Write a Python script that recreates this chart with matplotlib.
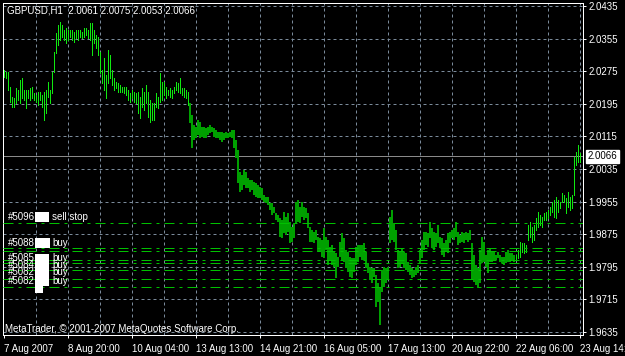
import numpy as np
import matplotlib
matplotlib.use("Agg")
import matplotlib.pyplot as plt
from matplotlib.patches import Rectangle

# GBPUSD H1 bars, 7 Aug 2007 12:00 .. 23 Aug 2007 14:00
highs = [
    2.0277, 2.0273, 2.0273, 2.0236, 2.0212, 2.0209, 2.0234, 2.0229, 2.0253, 2.0258, 2.0229, 2.0229, 2.0229, 2.0234, 2.0236, 2.0222,
    2.0217, 2.0224, 2.0224, 2.0217, 2.0224, 2.0229, 2.0249, 2.0229, 2.0273, 2.0322, 2.0369, 2.0388, 2.0396, 2.0388, 2.0376, 2.0381,
    2.0376, 2.0376, 2.0376, 2.0371, 2.0376, 2.0376, 2.0376, 2.0371, 2.0381, 2.0381, 2.0376, 2.0393, 2.0393, 2.0376, 2.0364, 2.0359,
    2.0322, 2.0277, 2.0307, 2.0265, 2.0327, 2.0315, 2.0277, 2.0258, 2.0249, 2.0246, 2.0241, 2.0236, 2.0236, 2.0236, 2.0229, 2.0222,
    2.0229, 2.0224, 2.0222, 2.0224, 2.0212, 2.0234, 2.0224, 2.0241, 2.0224, 2.0204, 2.0197, 2.0197, 2.0222, 2.0212, 2.0270, 2.0249,
    2.0249, 2.0236, 2.0229, 2.0234, 2.0229, 2.0236, 2.0249, 2.0246, 2.0258, 2.0234, 2.0234, 2.0229, 2.0224, 2.0197, 2.0168, 2.0143,
    2.0138, 2.0155, 2.0150, 2.0138, 2.0138, 2.0136, 2.0138, 2.0143, 2.0138, 2.0136, 2.0131, 2.0126, 2.0126, 2.0126, 2.0123, 2.0126,
    2.0123, 2.0126, 2.0131, 2.0131, 2.0106, 2.0082, 2.0028, 2.0020, 2.0032, 2.0028, 2.0013, 2.0008, 2.0008, 2.0003, 2.0001, 1.9996,
    1.9991, 1.9988, 1.9972, 1.9967, 1.9967, 1.9952, 1.9952, 1.9942, 1.9927, 1.9922, 1.9915, 1.9910, 1.9930, 1.9917, 1.9927, 1.9905,
    1.9893, 1.9903, 1.9954, 1.9959, 1.9942, 1.9954, 1.9942, 1.9939, 1.9927, 1.9893, 1.9885, 1.9880, 1.9885, 1.9868, 1.9866, 1.9861,
    1.9890, 1.9868, 1.9861, 1.9844, 1.9849, 1.9831, 1.9829, 1.9819, 1.9856, 1.9878, 1.9866, 1.9836, 1.9831, 1.9819, 1.9817, 1.9817,
    1.9844, 1.9849, 1.9849, 1.9849, 1.9853, 1.9831, 1.9804, 1.9795, 1.9792, 1.9792, 1.9775, 1.9755, 1.9746, 1.9787, 1.9795, 1.9792,
    1.9795, 1.9917, 1.9935, 1.9903, 1.9885, 1.9836, 1.9831, 1.9841, 1.9831, 1.9829, 1.9807, 1.9800, 1.9792, 1.9787, 1.9795, 1.9800,
    1.9836, 1.9861, 1.9880, 1.9880, 1.9878, 1.9905, 1.9890, 1.9880, 1.9878, 1.9898, 1.9868, 1.9866, 1.9853, 1.9861, 1.9878, 1.9880,
    1.9885, 1.9890, 1.9905, 1.9880, 1.9873, 1.9880, 1.9878, 1.9880, 1.9878, 1.9885, 1.9853, 1.9824, 1.9800, 1.9792, 1.9836, 1.9868,
    1.9856, 1.9824, 1.9836, 1.9841, 1.9831, 1.9831, 1.9824, 1.9831, 1.9824, 1.9819, 1.9819, 1.9831, 1.9836, 1.9829, 1.9829, 1.9824,
    1.9824, 1.9836, 1.9856, 1.9853, 1.9853, 1.9849, 1.9898, 1.9905, 1.9893, 1.9898, 1.9915, 1.9930, 1.9922, 1.9917, 1.9927, 1.9930,
    1.9935, 1.9942, 1.9954, 1.9959, 1.9967, 1.9959, 1.9954, 1.9976, 1.9972, 1.9964, 1.9979, 1.9967, 1.9972, 2.0065, 2.0077, 2.0094,
    2.0075,
]
lows = [
    2.0261, 2.0258, 2.0229, 2.0200, 2.0187, 2.0187, 2.0197, 2.0204, 2.0197, 2.0209, 2.0204, 2.0185, 2.0209, 2.0204, 2.0209, 2.0204,
    2.0200, 2.0192, 2.0204, 2.0187, 2.0155, 2.0172, 2.0212, 2.0197, 2.0222, 2.0273, 2.0320, 2.0339, 2.0352, 2.0359, 2.0352, 2.0344,
    2.0352, 2.0359, 2.0352, 2.0347, 2.0356, 2.0352, 2.0359, 2.0356, 2.0359, 2.0364, 2.0356, 2.0352, 2.0315, 2.0344, 2.0332, 2.0315,
    2.0270, 2.0246, 2.0229, 2.0209, 2.0246, 2.0258, 2.0241, 2.0229, 2.0234, 2.0224, 2.0224, 2.0224, 2.0222, 2.0217, 2.0204, 2.0200,
    2.0209, 2.0200, 2.0197, 2.0172, 2.0160, 2.0187, 2.0180, 2.0197, 2.0163, 2.0150, 2.0155, 2.0155, 2.0187, 2.0185, 2.0200, 2.0204,
    2.0217, 2.0209, 2.0217, 2.0212, 2.0209, 2.0222, 2.0229, 2.0224, 2.0222, 2.0217, 2.0212, 2.0209, 2.0192, 2.0148, 2.0087, 2.0106,
    2.0111, 2.0119, 2.0111, 2.0114, 2.0111, 2.0111, 2.0119, 2.0123, 2.0126, 2.0114, 2.0111, 2.0111, 2.0106, 2.0101, 2.0106, 2.0111,
    2.0111, 2.0114, 2.0111, 2.0087, 2.0062, 2.0001, 1.9979, 1.9984, 1.9996, 1.9988, 1.9988, 1.9979, 1.9984, 1.9972, 1.9967, 1.9964,
    1.9964, 1.9959, 1.9954, 1.9952, 1.9947, 1.9935, 1.9922, 1.9927, 1.9910, 1.9905, 1.9868, 1.9866, 1.9878, 1.9873, 1.9880, 1.9853,
    1.9856, 1.9866, 1.9903, 1.9905, 1.9903, 1.9917, 1.9910, 1.9915, 1.9890, 1.9856, 1.9856, 1.9853, 1.9861, 1.9831, 1.9831, 1.9819,
    1.9817, 1.9836, 1.9800, 1.9812, 1.9800, 1.9795, 1.9768, 1.9795, 1.9819, 1.9812, 1.9807, 1.9792, 1.9782, 1.9770, 1.9768, 1.9782,
    1.9800, 1.9807, 1.9819, 1.9812, 1.9812, 1.9792, 1.9780, 1.9763, 1.9755, 1.9770, 1.9696, 1.9709, 1.9652, 1.9733, 1.9746, 1.9755,
    1.9763, 1.9853, 1.9861, 1.9856, 1.9836, 1.9792, 1.9795, 1.9804, 1.9792, 1.9787, 1.9782, 1.9775, 1.9768, 1.9770, 1.9775, 1.9780,
    1.9804, 1.9817, 1.9836, 1.9849, 1.9844, 1.9866, 1.9841, 1.9836, 1.9844, 1.9853, 1.9841, 1.9824, 1.9819, 1.9831, 1.9829, 1.9853,
    1.9866, 1.9861, 1.9868, 1.9849, 1.9853, 1.9856, 1.9853, 1.9861, 1.9856, 1.9861, 1.9763, 1.9758, 1.9750, 1.9743, 1.9755, 1.9804,
    1.9807, 1.9795, 1.9780, 1.9807, 1.9807, 1.9812, 1.9812, 1.9817, 1.9807, 1.9804, 1.9800, 1.9804, 1.9807, 1.9807, 1.9812, 1.9807,
    1.9812, 1.9817, 1.9819, 1.9831, 1.9829, 1.9831, 1.9861, 1.9868, 1.9856, 1.9861, 1.9885, 1.9893, 1.9898, 1.9893, 1.9910, 1.9910,
    1.9915, 1.9922, 1.9930, 1.9917, 1.9915, 1.9930, 1.9939, 1.9954, 1.9954, 1.9927, 1.9942, 1.9935, 1.9939, 1.9972, 2.0045, 2.0052,
    2.0053,
]

x_labels = ["7 Aug 2007", "8 Aug 20:00", "10 Aug 04:00", "13 Aug 13:00", "14 Aug 21:00",
            "16 Aug 05:00", "17 Aug 13:00", "20 Aug 22:00", "22 Aug 06:00", "23 Aug 14:00"]
y_ticks = [2.0435, 2.0355, 2.0275, 2.0195, 2.0115, 2.0035, 1.9955, 1.9875, 1.9795, 1.9715, 1.9635]
bid = 2.0066
title = "GBPUSD,H1  2.0061 2.0075 2.0053 2.0066"

order_lines = [1.9903, 1.9840, 1.9833, 1.9812, 1.9805, 1.9786, 1.9765, 1.9745]
order_ids = ["#5096", "#5088", "#5085", "#5084", "#5082", "#5082"]
order_types = ["sell stop", "buy", "buy", "buy", "buy", "buy"]
order_label_prices = [1.9917, 1.9853, 1.9817, 1.9799, 1.9781, 1.9760]

W, H = 625, 356
plt.rcParams['font.family'] = ['Liberation Sans', 'DejaVu Sans']
plt.rcParams['lines.scale_dashes'] = False
FS = 7
px = 0.72  # one pixel in points

fig = plt.figure(figsize=(W / 100, H / 100), dpi=100, facecolor='black')
left, right, top, bottom = 2.7, 583, 3, 335
ax = fig.add_axes([left / W, 1 - bottom / H, (right - left) / W, (bottom - top) / H])
ax.set_facecolor('black')

n = len(highs)
xs = np.arange(n)
# 2 px per bar, bar centres on pixel centres
ax.set_xlim(-0.4, 289.75)
ax.set_ylim(1.96276, 2.04424)

# grid
grid_kw = dict(color='#7a8a9a', lw=px, ls=(0, (3 * px, 3 * px)), zorder=1)
for p in y_ticks:
    ax.axhline(p, **grid_kw)
for k in range(16, n, 16):
    ax.axvline(k, **grid_kw)

# bid line
ax.axhline(bid, color='#8a8a8a', lw=px, zorder=2)

# bars: bright at both ends, darker green in the middle part
hi = np.array(highs)
lo = np.array(lows)
mid = (xs >= 93) & (xs <= 255)
ax.vlines(xs[~mid], lo[~mid], hi[~mid], color='#10e810', lw=px, zorder=3, antialiased=False)
ax.vlines(xs[mid], lo[mid], hi[mid], color='#00a000', lw=1.5 * px, zorder=3, antialiased=False)

# order lines
for p in order_lines:
    ax.axhline(p, color='#00c000', lw=px, ls=(0, (10 * px, 5 * px, 3 * px, 5 * px)), zorder=4)

# axes styling
for s in ax.spines.values():
    s.set_color('white')
    s.set_linewidth(px)
ax.yaxis.tick_right()
ax.set_yticks(y_ticks)
ax.set_yticklabels([f"{v:.4f}" for v in y_ticks])
ax.set_xticks(np.arange(0, n, 32))
ax.set_xticklabels(x_labels, ha='left')
ax.tick_params(axis='both', colors='white', labelcolor='white', labelsize=FS,
               length=3 * px, width=px, pad=1.5)
ax.tick_params(axis='x', pad=4)

# bid price tag
ax.text(1.0086, bid, f"{bid:.4f}", transform=ax.get_yaxis_transform(), fontsize=FS,
        color='black', va='center', ha='left',
        bbox=dict(facecolor='white', edgecolor='white', pad=1.2))

# title and watermark
fig.text(7 / W, 1 - 10.5 / H, title, color='white', fontsize=FS, va='center', ha='left')
fig.text(5 / W, 1 - 329 / H, "MetaTrader, \u00a9 2001-2007 MetaQuotes Software Corp.",
         color='white', fontsize=FS, va='center', ha='left')

# order labels
ytr = ax.get_yaxis_transform()
for oid, otype, p in zip(order_ids, order_types, order_label_prices):
    ax.text(8 / (right - left) - 0.004, p, oid, transform=ytr, color='white', fontsize=FS,
            va='center', ha='left', zorder=5)
    ax.text(52 / (right - left) - 0.004, p, otype, transform=ytr, color='white', fontsize=FS,
            va='center', ha='left', zorder=5)

# masked ticket numbers
for (x0, y0, x1, y1) in [(35, 212, 49, 222), (35, 238, 50, 248), (35, 254, 49, 286), (35, 286, 43, 293)]:
    fig.patches.append(Rectangle((x0 / W, 1 - y1 / H), (x1 - x0) / W, (y1 - y0) / H,
                                 transform=fig.transFigure, facecolor='white',
                                 edgecolor='none', zorder=10))

fig.savefig("out.png", dpi=100, facecolor='black')
